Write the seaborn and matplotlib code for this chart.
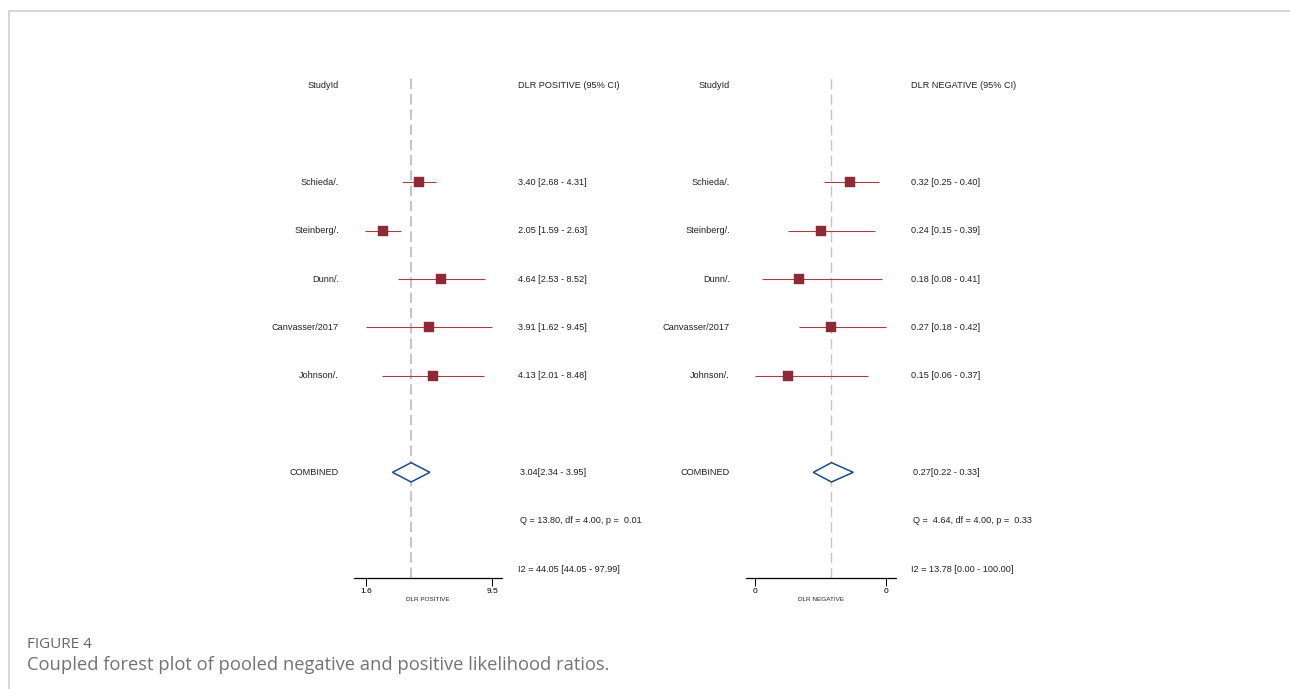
import pandas as pd
import matplotlib
matplotlib.use("Agg")
import matplotlib.pyplot as plt
from matplotlib.lines import Line2D
from matplotlib.transforms import blended_transform_factory
import seaborn as sns

# study data
studies = ["Schieda/.", "Steinberg/.", "Dunn/.", "Canvasser/2017", "Johnson/."]

pos_est = [3.40, 2.05, 4.64, 3.91, 4.13]
pos_lo = [2.68, 1.59, 2.53, 1.62, 2.01]
pos_hi = [4.31, 2.63, 8.52, 9.45, 8.48]
pos_pooled = [3.04, 2.34, 3.95]
pos_het = [13.80, 4.00, 0.01]          # Q, df, p
pos_i2 = [44.05, 44.05, 97.99]
pos_ticks = [1.62, 9.45]
pos_tick_labels = ["1.6", "9.5"]

neg_est = [0.32, 0.24, 0.18, 0.27, 0.15]
neg_lo = [0.25, 0.15, 0.08, 0.18, 0.06]
neg_hi = [0.40, 0.39, 0.41, 0.42, 0.37]
neg_pooled = [0.27, 0.22, 0.33]
neg_het = [4.64, 4.00, 0.33]
neg_i2 = [13.78, 0.00, 100.00]
neg_ticks = [0.06, 0.42]
neg_tick_labels = ["0", "0"]

W, H = 1290, 689
sq_color = "#8c2a36"
ci_color = "#a53d48"
dia_color = "#1f4a86"
txt_color = "#222222"

sns.set_style("white")
plt.rcParams["font.family"] = ["Liberation Sans", "DejaVu Sans"]
plt.rcParams["lines.scale_dashes"] = False

fig = plt.figure(figsize=(W / 100, H / 100), dpi=100)

# grey frame of the journal page
fig.add_artist(Line2D([9 / W, 1], [1 - 11 / H, 1 - 11 / H], color="#d4d4d4", lw=1.3))
fig.add_artist(Line2D([9 / W, 9 / W], [0, 1 - 11 / H], color="#d4d4d4", lw=1.3))

top_px, bot_px = 76, 577.7
row_top, row_bot = -0.2, 10.18


def panel(x0, x1, est, lo, hi, pooled, het, i2, scale, ticks, tlabels,
          xlabel, header, name_px, text_px, dash_lw):
    ax = fig.add_axes([x0 / W, 1 - bot_px / H, (x1 - x0) / W, (bot_px - top_px) / H])
    rows = list(range(2, 2 + len(est)))
    df = pd.DataFrame({"est": est, "lo": lo, "hi": hi, "row": rows})

    ax.axvline(pooled[0], color="#c6c6c6", lw=dash_lw, dashes=(7.5, 3.5), zorder=1)
    ax.hlines(df["row"], df["lo"], df["hi"], color=ci_color, lw=0.8, zorder=2)
    sns.scatterplot(data=df, x="est", y="row", marker="s", s=48, color=sq_color,
                    edgecolor=sq_color, linewidth=0.3, legend=False, zorder=3, ax=ax)

    # pooled diamond
    r = 8
    ax.fill([pooled[1], pooled[0], pooled[2], pooled[0]], [r, r - 0.2, r, r + 0.2],
            facecolor="white", edgecolor=dia_color, lw=1.1, zorder=3)

    ax.set_xscale(scale)
    if scale == "log":
        ax.set_xlim(min(lo) / 1.165, max(hi) * 1.15)
    else:
        ax.set_xlim(min(lo) - 0.025, max(hi) + 0.0275)
    ax.set_ylim(row_bot, row_top)

    ax.set_xticks(ticks)
    ax.set_xticklabels(tlabels)
    ax.minorticks_off()
    ax.tick_params(axis="x", direction="out", length=5.5, width=0.7, pad=2.2,
                   labelsize=6, colors="black", bottom=True)
    ax.set_yticks([])
    ax.set_xlabel(xlabel, fontsize=4.6, labelpad=1.5)
    ax.set_ylabel("")
    for s in ["top", "left", "right"]:
        ax.spines[s].set_visible(False)
    ax.spines["bottom"].set_color("black")
    ax.spines["bottom"].set_linewidth(0.9)

    tr = blended_transform_factory(fig.transFigure, ax.transData)
    kw = dict(transform=tr, fontsize=6.6, color=txt_color, va="center")
    ax.text(name_px / W, 0, "StudyId", ha="right", **kw)
    ax.text(text_px / W, 0, header, ha="left", **kw)
    for name, row, e, l, h in zip(studies, rows, est, lo, hi):
        ax.text(name_px / W, row, name, ha="right", **kw)
        ax.text(text_px / W, row, f"{e:.2f} [{l:.2f} - {h:.2f}]", ha="left", **kw)
    ax.text(name_px / W, 8, "COMBINED", ha="right", **kw)
    ax.text((text_px + 2) / W, 8, f"{pooled[0]:.2f}[{pooled[1]:.2f} - {pooled[2]:.2f}]", ha="left", **kw)
    ax.text((text_px + 2) / W, 9, f"Q = {het[0]:5.2f}, df = {het[1]:.2f}, p = {het[2]:5.2f}", ha="left", **kw)
    ax.text(text_px / W, 10, f"I2 = {i2[0]:.2f} [{i2[1]:.2f} - {i2[2]:.2f}]", ha="left", **kw)
    return ax


panel(354, 502, pos_est, pos_lo, pos_hi, pos_pooled, pos_het, pos_i2, "log",
      pos_ticks, pos_tick_labels, "DLR POSITIVE", "DLR POSITIVE (95% CI)", 339, 518, 1.5)
panel(746, 896, neg_est, neg_lo, neg_hi, neg_pooled, neg_het, neg_i2, "linear",
      neg_ticks, neg_tick_labels, "DLR NEGATIVE", "DLR NEGATIVE (95% CI)", 730, 911, 1.0)

# caption
fig.text(27 / W, 1 - 644 / H, "FIGURE 4", fontsize=11, color="#666666",
         family=["Open Sans", "DejaVu Sans"], va="center", ha="left")
fig.text(27 / W, 1 - 665 / H, "Coupled forest plot of pooled negative and positive likelihood ratios.",
         fontsize=13.2, color="#737373", family=["Open Sans", "DejaVu Sans"], va="center", ha="left")

fig.savefig("out.png", dpi=100, facecolor="white")
